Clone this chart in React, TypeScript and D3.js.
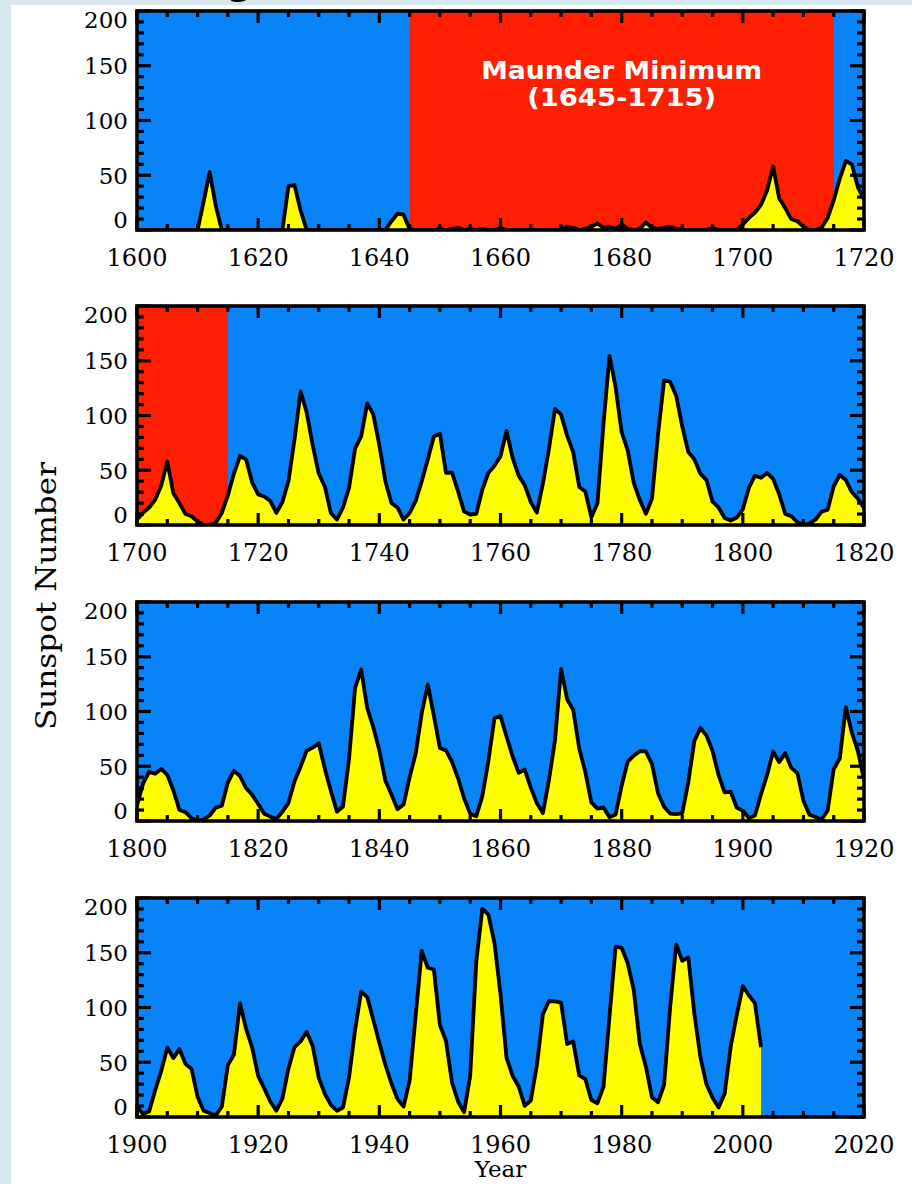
import React from 'react';
import * as d3 from 'd3';

// ---------- DATA (yearly sunspot numbers) ----------
const ssn1600sStart = 1600;
const ssn1600s: number[] = [
  0, 0, 0, 0, 0, 0, 0, 0, 0, 0,
  0, 26, 53, 22, 0, 0, 0, 0, 0, 0,
  0, 0, 0, 0, 0, 40, 41, 18, 0, 0,
  0, 0, 0, 0, 0, 0, 0, 0, 0, 0,
  0, 0, 8, 15, 14, 1, 0, 0, 0, 0,
  1, 0, 1, 2, 0, 1, 0, 1, 0, 0,
  2, 0, 0, 0, 0, 0, 0, 0, 0, 0,
  0, 3, 2, 0, 1, 3, 6, 2, 3, 1,
  5, 1, 0, 1, 7, 2, 1, 2, 3, 1,
  0, 0, 0, 0, 0, 2, 0, 0, 0, 0,
];

const ssn1700sStart = 1700;
const ssn1700s: number[] = [
  5, 11, 16, 23, 36, 58, 29, 20, 10, 8,
  3, 0, 0, 2, 11, 27, 47, 63, 60, 39,
  28, 26, 22, 11, 21, 40, 78, 122, 103, 73,
  47, 35, 11, 5, 16, 34, 70, 81, 111, 101,
  73, 40, 20, 16, 5, 11, 22, 40, 60, 80.9,
  83.4, 47.7, 47.8, 30.7, 12.2, 9.6, 10.2, 32.4, 47.6, 54.0,
  62.9, 85.9, 61.2, 45.1, 36.4, 20.9, 11.4, 37.8, 69.8, 106.1,
  100.8, 81.6, 66.5, 34.8, 30.6, 7.0, 19.8, 92.5, 154.4, 125.9,
  84.8, 68.1, 38.5, 22.8, 10.2, 24.1, 82.9, 132.0, 130.9, 118.1,
  89.9, 66.6, 60.0, 46.9, 41.0, 21.3, 16.0, 6.4, 4.1, 6.8,
];

const ssn1800sStart = 1800;
const ssn1800s: number[] = [
  14.5, 34.0, 45.0, 43.1, 47.5, 42.2, 28.1, 10.1, 8.1, 2.5,
  0.0, 1.4, 5.0, 12.2, 13.9, 35.4, 45.8, 41.1, 30.1, 23.9,
  15.6, 6.6, 4.0, 1.8, 8.5, 16.6, 36.3, 49.6, 64.2, 67.0,
  70.9, 47.8, 27.5, 8.5, 13.2, 56.9, 121.5, 138.3, 103.2, 85.7,
  64.6, 36.7, 24.2, 10.7, 15.0, 40.1, 61.5, 98.5, 124.7, 96.3,
  66.6, 64.5, 54.1, 39.0, 20.6, 6.7, 4.3, 22.7, 54.8, 93.8,
  95.8, 77.2, 59.1, 44.0, 47.0, 30.5, 16.3, 7.3, 37.6, 74.0,
  139.0, 111.2, 101.6, 66.2, 44.7, 17.0, 11.3, 12.4, 3.4, 6.0,
  32.3, 54.3, 59.7, 63.7, 63.5, 52.2, 25.4, 13.1, 6.8, 6.3,
  7.1, 35.6, 73.0, 85.1, 78.0, 64.0, 41.8, 26.2, 26.7, 12.1,
];

const ssn1900sStart = 1900;
const ssn1900s: number[] = [
  9.5, 2.7, 5.0, 24.4, 42.0, 63.5, 53.8, 62.0, 48.5, 43.9,
  18.6, 5.7, 3.6, 1.4, 9.6, 47.4, 57.1, 103.9, 80.6, 63.6,
  37.6, 26.1, 14.2, 5.8, 16.7, 44.3, 63.9, 69.0, 77.8, 64.9,
  35.7, 21.2, 11.1, 5.7, 8.7, 36.1, 79.7, 114.4, 109.6, 88.8,
  67.8, 47.5, 30.6, 16.3, 9.6, 33.2, 92.6, 151.6, 136.3, 134.7,
  83.9, 69.4, 31.5, 13.9, 4.4, 38.0, 141.7, 190.2, 184.8, 159.0,
  112.3, 53.9, 37.6, 27.9, 10.2, 15.1, 47.0, 93.8, 105.9, 105.5,
  104.5, 66.6, 68.9, 38.0, 34.5, 15.5, 12.6, 27.5, 92.5, 155.4,
  154.6, 140.4, 115.9, 66.6, 45.9, 17.9, 13.4, 29.4, 100.2, 157.6,
  142.6, 145.7, 94.3, 54.6, 29.9, 17.5, 8.6, 21.5, 64.3, 93.3,
  119.6, 111.0, 104.0, 63.7,
];

const panelStartYears = [1600, 1700, 1800, 1900];
const panelSpanYears = 120;
const yDomain = [0, 200];
const yTickLabels = [0, 50, 100, 150, 200];
const maunderRange = [1645, 1715];
const maunderLabel = ['Maunder Minimum', '(1645-1715)'];
const yAxisTitle = 'Sunspot Number';
const xAxisTitle = 'Year';

type Pt = { year: number; value: number };
const toPts = (start: number, vals: number[]): Pt[] =>
  vals.map((v, i) => ({ year: start + i, value: v }));
const series: Pt[] = [
  ...toPts(ssn1600sStart, ssn1600s),
  ...toPts(ssn1700sStart, ssn1700s),
  ...toPts(ssn1800sStart, ssn1800s),
  ...toPts(ssn1900sStart, ssn1900s),
];

// ---------- LAYOUT ----------
const W = 912;
const H = 1184;
const LEFT = 137;
const RIGHT = 864;
const PANEL_TOPS = [11, 306, 602, 898];
const PANEL_H = 219;
const BLUE = '#0984f8';
const RED = '#ff1e00';
const YELLOW = '#ffff00';
const FRAME = '#d6e8ee';
const SERIF = '"DejaVu Serif", serif';

function Panel({ start, top }: { start: number; top: number }) {
  const end = start + panelSpanYears;
  const bottom = top + PANEL_H;
  const x = d3.scaleLinear().domain([start, end]).range([LEFT, RIGHT]);
  const y = d3.scaleLinear().domain(yDomain).range([bottom, top]);
  const data = series.filter((d) => d.year >= start - 1 && d.year <= end + 1);
  const area = d3
    .area<Pt>()
    .x((d) => x(d.year))
    .y0(y(0))
    .y1((d) => y(d.value));
  const line = d3
    .line<Pt>()
    .x((d) => x(d.year))
    .y((d) => y(d.value));
  const clipId = `clip-${start}`;

  const redStart = Math.max(maunderRange[0], start);
  const redEnd = Math.min(maunderRange[1], end);
  const hasRed = redEnd > redStart;

  const xMajor = d3.range(start, end + 1, 20);
  const xMinor = d3.range(start, end + 1, 5).filter((v) => (v - start) % 20 !== 0);
  const yMajor = d3.range(0, 201, 50);
  const yMinor = d3.range(0, 201, 10).filter((v) => v % 50 !== 0);

  const tickW = 3.2;
  const xMajLen = 12;
  const xMinLen = 6;
  const yMajLen = 14;
  const yMinLen = 7;

  const showMaunderText = start === 1600;
  const midYear = (maunderRange[0] + maunderRange[1]) / 2;

  return (
    <g>
      <defs>
        <clipPath id={clipId}>
          <rect x={LEFT} y={top} width={RIGHT - LEFT} height={PANEL_H} />
        </clipPath>
      </defs>
      <rect x={LEFT} y={top} width={RIGHT - LEFT} height={PANEL_H} fill={BLUE} />
      {hasRed && (
        <rect x={x(redStart)} y={top} width={x(redEnd) - x(redStart)} height={PANEL_H} fill={RED} />
      )}
      <g clipPath={`url(#${clipId})`}>
        <path d={area(data) || ''} fill={YELLOW} />
        <path
          d={line(data) || ''}
          fill="none"
          stroke="#000"
          strokeWidth={3.8}
          strokeLinejoin="round"
          strokeLinecap="butt"
        />
      </g>
      {showMaunderText && (
        <g
          fill="#fff"
          fontFamily='"DejaVu Sans Condensed", "DejaVu Sans", sans-serif'
          fontStretch="condensed"
          fontWeight="bold"
          textAnchor="middle"
        >
          <text x={x(midYear)} y={top + 68} fontSize={25} textLength={281} lengthAdjust="spacingAndGlyphs">
            {maunderLabel[0]}
          </text>
          <text x={x(midYear)} y={top + 95} fontSize={25} textLength={189} lengthAdjust="spacingAndGlyphs">
            {maunderLabel[1]}
          </text>
        </g>
      )}
      <g stroke="#000" strokeWidth={tickW}>
        {xMajor.map((v) => (
          <g key={`xM${v}`}>
            <line x1={x(v)} x2={x(v)} y1={bottom} y2={bottom - xMajLen} />
            <line x1={x(v)} x2={x(v)} y1={top} y2={top + xMajLen} />
          </g>
        ))}
        {xMinor.map((v) => (
          <g key={`xm${v}`}>
            <line x1={x(v)} x2={x(v)} y1={bottom} y2={bottom - xMinLen} />
            <line x1={x(v)} x2={x(v)} y1={top} y2={top + xMinLen} />
          </g>
        ))}
        {yMajor.map((v) => (
          <g key={`yM${v}`}>
            <line x1={LEFT} x2={LEFT + yMajLen} y1={y(v)} y2={y(v)} />
            <line x1={RIGHT} x2={RIGHT - yMajLen} y1={y(v)} y2={y(v)} />
          </g>
        ))}
        {yMinor.map((v) => (
          <g key={`ym${v}`}>
            <line x1={LEFT} x2={LEFT + yMinLen} y1={y(v)} y2={y(v)} />
            <line x1={RIGHT} x2={RIGHT - yMinLen} y1={y(v)} y2={y(v)} />
          </g>
        ))}
      </g>
      <rect
        x={LEFT}
        y={top}
        width={RIGHT - LEFT}
        height={PANEL_H}
        fill="none"
        stroke="#000"
        strokeWidth={3.6}
      />
      <g fontFamily={SERIF} fontSize={23} fill="#000" textAnchor="end">
        {yTickLabels.map((v) => {
          const nudge = v === yDomain[0] ? -10 : v === yDomain[1] ? 9 : 0;
          return (
            <text key={`yl${v}`} x={LEFT - 9} y={y(v) + nudge} dy="0.36em">
              {v}
            </text>
          );
        })}
      </g>
      <g fontFamily={SERIF} fontSize={24} fill="#000" textAnchor="middle">
        {xMajor.map((v) => (
          <text key={`xl${v}`} x={x(v)} y={bottom + 27} dy="0.36em">
            {v}
          </text>
        ))}
      </g>
    </g>
  );
}

export default function App() {
  return (
    <svg
      width={W}
      height={H}
      viewBox={`0 0 ${W} ${H}`}
      style={{ position: 'absolute', left: 0, top: 0, display: 'block' }}
    >
      <rect x={0} y={0} width={W} height={H} fill={FRAME} />
      <rect x={11} y={5} width={W - 11} height={H - 5} fill="#fff" />
      <text x={240} y={-5} fontFamily='"DejaVu Sans", sans-serif' fontWeight="bold" fontSize={36} textAnchor="middle">
        g
      </text>
      {panelStartYears.map((s, i) => (
        <Panel key={s} start={s} top={PANEL_TOPS[i]} />
      ))}
      <text
        transform={`translate(56, 596) rotate(-90)`}
        fontFamily={SERIF}
        fontSize={28}
        textAnchor="middle"
        textLength={268}
        lengthAdjust="spacingAndGlyphs"
      >
        {yAxisTitle}
      </text>
      <text x={(LEFT + RIGHT) / 2} y={1177} fontFamily={SERIF} fontSize={23} textAnchor="middle">
        {xAxisTitle}
      </text>
    </svg>
  );
}
